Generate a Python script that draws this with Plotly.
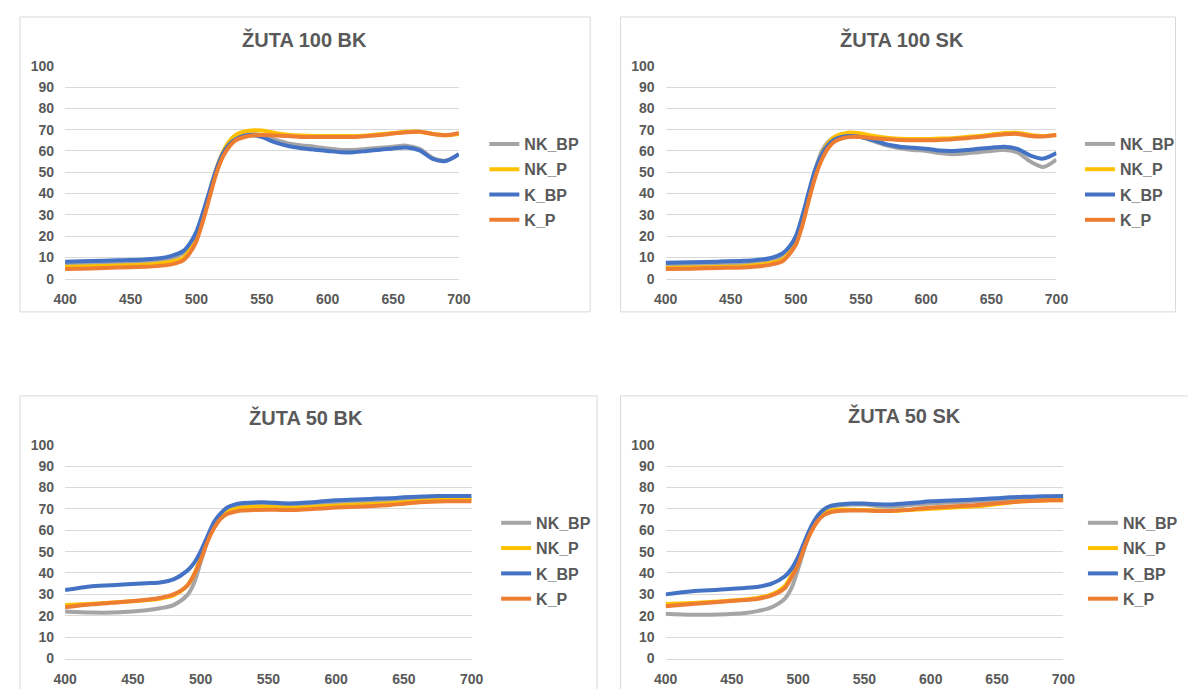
import plotly.graph_objects as go

# valovne duljine (nm)
wl = [400, 420, 440, 460, 470, 480, 490, 495, 500, 505, 510, 515, 520, 525, 530,
      540, 550, 560, 570, 580, 590, 600, 610, 620, 630, 640, 650, 660, 670, 680, 690, 700]

series_names = ["NK_BP", "NK_P", "K_BP", "K_P"]
series_colors = ["#A5A5A5", "#FFC000", "#4472C4", "#ED7D31"]

# ŽUTA 100 BK
z100bk_nk_bp = [7.0, 7.2, 7.5, 7.8, 8.3, 9.3, 12, 15, 20.5, 30, 40.5, 51, 59, 64, 66.5,
                68, 67.3, 65.3, 63.5, 62.6, 62, 61.2, 60.5, 60.5, 61, 61.5, 62, 62.5, 61, 56.8, 55.5, 58.5]
z100bk_nk_p = [5.5, 5.8, 6.2, 6.6, 7, 7.8, 9.8, 13.5, 19, 28, 40, 51, 59, 64.5, 67.5,
               69.5, 69.6, 68.5, 67.6, 67.2, 67, 67, 67, 67, 67.3, 67.8, 68.4, 69, 69, 68, 67.4, 68]
z100bk_k_bp = [8.0, 8.3, 8.6, 9.0, 9.5, 10.5, 13, 16.5, 22, 31, 41, 51, 58.5, 63, 65.5,
               67.5, 66.5, 64, 62.3, 61.3, 60.6, 60, 59.4, 59.4, 60, 60.6, 61.2, 61.6, 60.3, 56.3, 55.3, 58.5]
z100bk_k_p = [4.5, 4.8, 5.2, 5.6, 5.9, 6.6, 8.6, 12, 17.5, 27, 38, 49, 57, 62, 65,
              67, 67.5, 67.2, 67, 66.6, 66.5, 66.5, 66.5, 66.6, 67, 67.5, 68.2, 68.8, 69, 68, 67.4, 68.5]

# ŽUTA 100 SK
z100sk_nk_bp = [6, 6.2, 6.6, 7, 7.6, 8.6, 11, 14, 19, 29, 40, 51.5, 60, 64.5, 66.5,
                67.5, 66.5, 64.5, 62.5, 61.3, 60.5, 60, 59, 58.5, 58.8, 59.4, 60, 60.5, 59.3, 55, 52.5, 56]
z100sk_nk_p = [5, 5.2, 5.5, 5.9, 6.4, 7.3, 9, 12.5, 17.5, 27, 38.5, 50, 58.5, 64, 66.8,
               68.6, 68.2, 67, 66.2, 65.7, 65.6, 65.6, 65.8, 66, 66.5, 67, 67.7, 68.4, 68.5, 67.5, 67, 67.5]
z100sk_k_bp = [7.5, 7.7, 8, 8.4, 8.8, 9.6, 12, 15, 20, 29.5, 41, 51.5, 58.5, 63, 65.5,
               67, 66.6, 65, 63, 62, 61.5, 61, 60.2, 60, 60.4, 61, 61.5, 62, 61, 57.8, 56.4, 59]
z100sk_k_p = [4.5, 4.7, 5, 5.3, 5.7, 6.5, 8.3, 11.5, 16, 25, 37, 48, 56, 61.5, 64.5,
              66.5, 66.6, 66, 65.5, 65.1, 65, 65, 65.2, 65.5, 66, 66.5, 67.2, 67.8, 68, 67, 66.8, 67.5]

# ŽUTA 50 BK
z50bk_nk_bp = [22, 21.5, 21.6, 22.6, 23.5, 25, 29.5, 35, 45, 55, 62, 66.5, 69.5, 70.8, 71.5,
               72, 72, 71.6, 71.5, 71.9, 72.3, 72.6, 72.9, 73.2, 73.4, 73.7, 74.2, 74.6, 74.9, 75, 75, 75]
z50bk_nk_p = [25, 25.6, 26.4, 27.3, 28, 29.5, 34, 39, 47, 55.5, 62, 66, 68.6, 69.8, 70.5,
              71, 71, 70.6, 70.5, 70.8, 71.2, 71.5, 71.8, 72, 72.3, 72.6, 73.1, 73.6, 74, 74.2, 74.4, 74.5]
z50bk_k_bp = [32, 33.8, 34.5, 35.2, 35.6, 37, 41, 44.5, 50, 57, 64, 68, 70.8, 72, 72.6,
              73, 73, 72.6, 72.6, 73, 73.5, 74, 74.2, 74.5, 74.8, 75, 75.4, 75.7, 75.9, 76, 76, 76]
z50bk_k_p = [24, 25.4, 26.3, 27.5, 28.3, 30, 34, 39, 46, 54.5, 61, 65.5, 67.7, 68.6, 69.2,
             69.5, 69.6, 69.5, 69.5, 69.8, 70.2, 70.6, 70.9, 71.1, 71.4, 71.8, 72.4, 73, 73.3, 73.5, 73.5, 73.5]

# ŽUTA 50 SK
z50sk_nk_bp = [21, 20.5, 20.6, 21.3, 22.3, 24, 28, 33, 42, 52, 61, 66.5, 69.5, 70.8, 71.5,
               72, 72, 71.3, 71, 71.5, 72.1, 72.5, 72.8, 73.1, 73.4, 73.7, 74.2, 74.6, 74.9, 75, 75, 75]
z50sk_nk_p = [25.5, 26, 26.7, 27.6, 28.4, 30, 34, 39, 46, 54, 60.5, 65, 68, 69.2, 69.6,
              69.6, 69.5, 69.2, 69, 69.3, 69.7, 70, 70.4, 70.7, 71, 71.4, 72.2, 73, 73.5, 73.8, 74, 74]
z50sk_k_bp = [30, 31.5, 32.2, 33, 33.6, 35, 38.5, 42, 47.5, 55, 62, 67, 70, 71.5, 72,
              72.5, 72.5, 72.1, 72, 72.5, 73, 73.5, 73.8, 74, 74.3, 74.6, 75, 75.4, 75.6, 75.8, 75.9, 76]
z50sk_k_p = [24.5, 25.5, 26.4, 27.4, 28, 29.5, 33, 38, 44, 52.5, 59.5, 64.5, 67.3, 68.5, 69,
             69.2, 69.2, 69, 69, 69.4, 70, 70.5, 70.9, 71.2, 71.6, 72, 72.6, 73.1, 73.5, 73.8, 74, 74]

# stranica ima marginu od 8 px, pa je graf manji od prozora
W, H = 1180, 681
GREY_TXT = "#595959"
FONT = "Arial, Liberation Sans, sans-serif"

# (naslov, podaci, okvir px, podrucje grafa px, legenda px, naslov px)
panels = [
    ("ŽUTA 100 BK", [z100bk_nk_bp, z100bk_nk_p, z100bk_k_bp, z100bk_k_p],
     (0, 1, 582, 303), (46, 51, 448, 269), (474, 170), (290, 24)),
    ("ŽUTA 100 SK", [z100sk_nk_bp, z100sk_nk_p, z100sk_k_bp, z100sk_k_p],
     (613, 1, 1179.5, 303), (659, 51, 1058, 269), (1082, 170), (900, 24)),
    ("ŽUTA 50 BK", [z50bk_nk_bp, z50bk_nk_p, z50bk_k_bp, z50bk_k_p],
     (0, 389, 589, 720), (46, 439, 461, 658), (486, 558), (292, 411)),
    ("ŽUTA 50 SK", [z50sk_nk_bp, z50sk_nk_p, z50sk_k_bp, z50sk_k_p],
     (613, 389, 1200, 720), (659, 439, 1065, 658), (1085, 558), (903, 409)),
]


def px_x(v):
    return v / W


def px_y(v):
    return 1 - v / H


fig = go.Figure()
shapes, annotations = [], []
layout = {}

for i, (title, data, box, area, leg, tpos) in enumerate(panels):
    n = "" if i == 0 else str(i + 1)
    legname = "legend" + n
    for name, color, vals in zip(series_names, series_colors, data):
        fig.add_trace(go.Scatter(
            x=wl, y=vals, name=name, mode="lines",
            line=dict(color=color, width=4, shape="spline", smoothing=0.8),
            xaxis="x" + n, yaxis="y" + n, legend=legname, legendgroup=name + n,
        ))

    shapes.append(dict(type="rect", xref="paper", yref="paper", layer="below",
                       x0=px_x(box[0]), x1=px_x(box[2]), y0=px_y(box[3]), y1=px_y(box[1]),
                       line=dict(color="#D9D9D9", width=1), fillcolor="white"))
    annotations.append(dict(text="<b>" + title + "</b>", xref="paper", yref="paper",
                            x=px_x(tpos[0]), y=px_y(tpos[1]), xanchor="center", yanchor="middle",
                            showarrow=False, font=dict(size=20, color=GREY_TXT, family=FONT)))

    layout["xaxis" + n] = dict(
        domain=[px_x(area[0]), px_x(area[2])], range=[400, 700], anchor="y" + n,
        tickvals=[400, 450, 500, 550, 600, 650, 700], showgrid=False, zeroline=False,
        showline=True, linecolor="#D9D9D9", linewidth=1, ticks="", ticklabelstandoff=8,
        tickfont=dict(size=14, color=GREY_TXT, family=FONT, weight="bold"),
    )
    layout["yaxis" + n] = dict(
        domain=[px_y(area[3]), px_y(area[1])], range=[0, 100], anchor="x" + n,
        tickvals=list(range(0, 101, 10)), showgrid=True, gridcolor="#D9D9D9", gridwidth=1,
        zeroline=False, showline=False, ticks="", ticklabelstandoff=10,
        tickfont=dict(size=14, color=GREY_TXT, family=FONT, weight="bold"),
    )
    layout[legname] = dict(
        x=px_x(leg[0]), y=px_y(leg[1]), xanchor="left", yanchor="middle",
        bgcolor="rgba(0,0,0,0)", borderwidth=0, tracegroupgap=1.5,
        font=dict(size=16, color=GREY_TXT, family=FONT, weight="bold"),
    )

fig.update_layout(
    width=W, height=H, autosize=False,
    margin=dict(l=0, r=0, t=0, b=0),
    paper_bgcolor="white", plot_bgcolor="rgba(0,0,0,0)",
    showlegend=True, shapes=shapes, annotations=annotations,
    **layout,
)

fig.write_html("out.html", config={"displayModeBar": False})
